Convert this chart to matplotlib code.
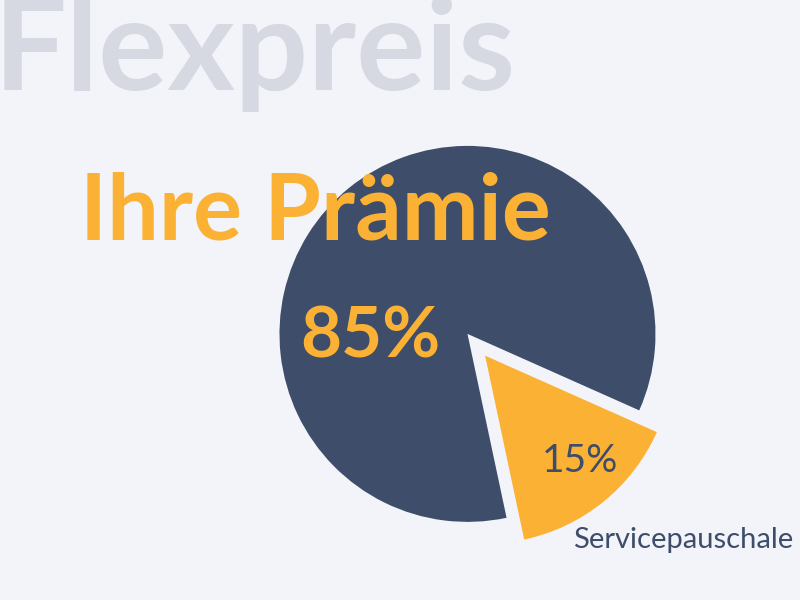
import matplotlib
matplotlib.use('Agg')
import matplotlib.pyplot as plt

# data
labels = ['Ihre Prämie', 'Servicepauschale']
shares = [85, 15]
colors = ['#3d4d6a', '#fbb134']

bg = '#f3f4f9'
plt.rcParams['font.family'] = ['Lato', 'DejaVu Sans']

fig = plt.figure(figsize=(8, 6), dpi=100, facecolor=bg)
ax = fig.add_axes([0, 0, 1, 1])
ax.set_facecolor(bg)

H = 600  # pixel height, y measured from top in the layout below

# pie: orange slice centred around -51 deg, pulled out (explode is in data units here)
start = -51 + 360 * shares[1] / 100 / 2
ax.pie(shares, colors=colors, startangle=start, radius=188,
       center=(470, H - 337), explode=(4, 24),
       wedgeprops=dict(linewidth=0))

ax.set_xlim(0, 800)
ax.set_ylim(0, H)
ax.set_aspect('equal')
ax.axis('off')

ax.text(-6, H - 90, 'Flexpreis', fontsize=93, fontweight='bold',
        color='#d6d9e2', ha='left', va='baseline')
ax.text(80, H - 240, labels[0], fontsize=66, fontweight='bold',
        color=colors[1], ha='left', va='baseline')
ax.text(300, H - 358, f'{shares[0]}%', fontsize=51, fontweight='bold',
        color=colors[1], ha='left', va='baseline')
ax.text(542, H - 472, f'{shares[1]}%', fontsize=28,
        color=colors[0], ha='left', va='baseline')
ax.text(573, H - 548, labels[1], fontsize=21,
        color=colors[0], ha='left', va='baseline')

fig.savefig('out.png', dpi=100, facecolor=bg)
